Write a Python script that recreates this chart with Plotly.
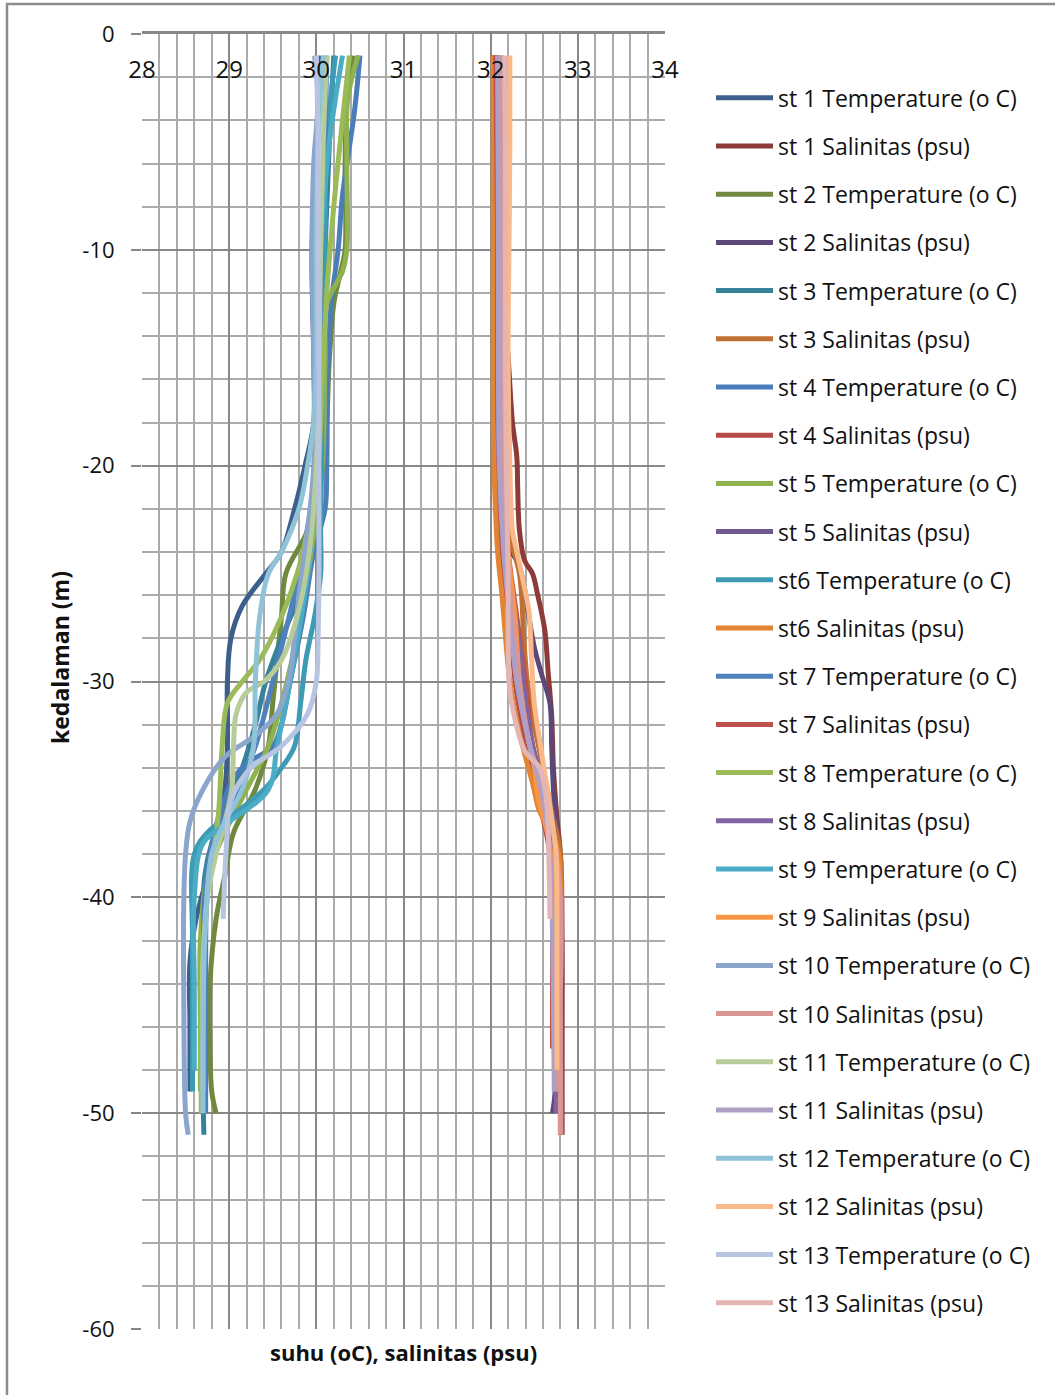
import plotly.graph_objects as go

# ---------------------------------------------------------------
# CTD profiles per station: depth (m, negative downwards) and value
# ---------------------------------------------------------------
st1_temp_depth = [-1, -5, -10, -15, -18, -20, -22, -24, -25, -26.5, -28, -30, -33, -35, -37, -39, -41, -43, -46, -49]
st1_temp = [30.05, 30.0, 29.95, 29.97, 29.97, 29.87, 29.75, 29.6, 29.42, 29.15, 29.02, 28.98, 28.98, 28.95, 28.85, 28.75, 28.62, 28.55, 28.55, 28.55]
st1_sal_depth = [-1, -5, -10, -15, -18, -19.6, -21, -23, -24.4, -25, -26, -27.6, -29.6, -31.6, -34, -36.3, -38, -42, -46, -51]
st1_sal = [32.05, 32.07, 32.1, 32.2, 32.25, 32.3, 32.31, 32.33, 32.39, 32.48, 32.54, 32.62, 32.66, 32.7, 32.72, 32.76, 32.8, 32.82, 32.82, 32.82]

st2_temp_depth = [-1, -3, -6, -10, -11, -12.5, -15, -20, -23, -25, -27, -29, -31, -33, -35, -37, -39, -41, -44, -47, -49, -50]
st2_temp = [30.42, 30.35, 30.33, 30.33, 30.28, 30.2, 30.15, 30.08, 29.9, 29.65, 29.6, 29.55, 29.5, 29.45, 29.3, 29.05, 28.95, 28.85, 28.78, 28.78, 28.8, 28.85]
st2_sal_depth = [-1, -5, -10, -15, -20, -22, -23, -23.6, -24.4, -25.3, -26.8, -28.4, -29.6, -31, -33, -35, -37, -40, -45, -49, -50]
st2_sal = [32.06, 32.06, 32.07, 32.07, 32.08, 32.09, 32.1, 32.16, 32.3, 32.37, 32.43, 32.5, 32.58, 32.68, 32.7, 32.72, 32.76, 32.77, 32.76, 32.74, 32.71]

st3_temp_depth = [-1, -5, -10, -15, -20, -23, -26, -28, -30, -32, -34, -36, -37.5, -39, -42, -46, -49, -51]
st3_temp = [30.2, 30.15, 30.1, 30.05, 30.0, 29.95, 29.8, 29.6, 29.42, 29.3, 29.15, 28.95, 28.8, 28.72, 28.7, 28.7, 28.7, 28.71]
st3_sal_depth = [-1, -10, -20, -23, -25, -28, -30, -32, -34, -36, -38, -45, -51]
st3_sal = [32.04, 32.06, 32.1, 32.2, 32.33, 32.38, 32.42, 32.5, 32.6, 32.7, 32.8, 32.8, 32.81]

st4_temp_depth = [-1, -3.5, -7.5, -10, -12.5, -16, -20, -22, -24, -27, -30, -32, -33, -33.8, -34.5, -36, -38, -40, -45, -50]
st4_temp = [30.5, 30.44, 30.3, 30.25, 30.17, 30.13, 30.12, 30.1, 29.97, 29.85, 29.7, 29.6, 29.5, 29.2, 29.05, 28.9, 28.78, 28.74, 28.73, 28.73]
st4_sal_depth = [-1, -10, -20, -22, -24, -26, -28, -30, -32, -34, -36, -38, -41, -44, -47]
st4_sal = [32.03, 32.04, 32.05, 32.08, 32.13, 32.18, 32.24, 32.28, 32.36, 32.45, 32.58, 32.68, 32.71, 32.71, 32.71]

st5_temp_depth = [-1, -3, -6, -10, -11, -12.5, -15, -20, -23, -27, -29, -31, -33, -35, -37, -39, -42, -46, -49]
st5_temp = [30.48, 30.36, 30.35, 30.35, 30.3, 30.12, 30.1, 30.07, 29.98, 29.82, 29.72, 29.6, 29.45, 29.2, 28.95, 28.75, 28.67, 28.67, 28.67]
st5_sal_depth = [-1, -10, -20, -23, -25, -28, -30, -32, -34, -36, -38, -45, -50]
st5_sal = [32.1, 32.1, 32.12, 32.15, 32.22, 32.3, 32.35, 32.42, 32.55, 32.7, 32.74, 32.75, 32.76]

st6_temp_depth = [-1, -5, -10, -15, -20, -23, -25, -27, -29, -31, -33, -34, -35, -36, -37, -38, -42, -46, -49]
st6_temp = [30.22, 30.12, 30.1, 30.07, 30.06, 30.05, 30.05, 29.98, 29.88, 29.82, 29.75, 29.6, 29.4, 29.1, 28.75, 28.6, 28.58, 28.58, 28.58]
st6_sal_depth = [-1, -10, -18, -21.5, -24, -26, -28.4, -30, -32.4, -34.7, -36, -37, -38, -45, -50]
st6_sal = [32.03, 32.03, 32.03, 32.05, 32.08, 32.13, 32.18, 32.22, 32.33, 32.48, 32.56, 32.7, 32.78, 32.8, 32.8]

st7_temp_depth = [-1, -5, -10, -15, -20, -25, -30, -33, -35, -37, -40, -45, -50]
st7_temp = [30.12, 30.1, 30.06, 30.03, 30.0, 29.8, 29.5, 29.3, 29.1, 28.85, 28.72, 28.72, 28.72]
st7_sal_depth = [-1, -10, -20, -24, -27, -30, -33, -35, -37, -40, -45, -51]
st7_sal = [32.06, 32.08, 32.1, 32.2, 32.3, 32.4, 32.48, 32.6, 32.7, 32.8, 32.8, 32.8]

st8_temp_depth = [-1, -4, -8, -12, -16, -20, -23, -25, -27, -29, -30, -31, -33, -36, -38, -40, -43, -47, -50]
st8_temp = [30.38, 30.3, 30.2, 30.12, 30.07, 30.02, 29.9, 29.78, 29.6, 29.35, 29.15, 28.98, 28.92, 28.88, 28.82, 28.75, 28.7, 28.68, 28.68]
st8_sal_depth = [-1, -10, -20, -23, -26, -29, -31, -34, -36, -38, -44, -50]
st8_sal = [32.08, 32.08, 32.1, 32.15, 32.25, 32.35, 32.4, 32.53, 32.62, 32.7, 32.75, 32.75]

st9_temp_depth = [-1, -5, -10, -15, -20, -25, -30, -33, -35, -36.5, -37.5, -40, -44, -48]
st9_temp = [30.3, 30.15, 30.05, 30.02, 30.0, 29.9, 29.7, 29.55, 29.45, 29.0, 28.7, 28.6, 28.6, 28.6]
st9_sal_depth = [-1, -10, -20, -24, -27, -30, -32, -34, -35.5, -37, -39, -45, -49]
st9_sal = [32.12, 32.12, 32.14, 32.2, 32.28, 32.33, 32.4, 32.5, 32.55, 32.65, 32.72, 32.75, 32.75]

st10_temp_depth = [-1, -3, -6, -10, -15, -20, -23, -26, -28, -30, -31.5, -32.5, -33.5, -35, -36.5, -38, -40, -45, -50, -51]
st10_temp = [29.98, 30.02, 29.97, 29.95, 29.97, 29.97, 29.9, 29.8, 29.75, 29.68, 29.55, 29.3, 28.95, 28.7, 28.55, 28.5, 28.48, 28.48, 28.5, 28.53]
st10_sal_depth = [-1, -10, -20, -24, -27, -30, -33, -35, -37, -40, -45, -51]
st10_sal = [32.12, 32.13, 32.15, 32.18, 32.25, 32.33, 32.45, 32.62, 32.72, 32.8, 32.8, 32.8]

st11_temp_depth = [-1, -5, -10, -15, -20, -24, -27, -29, -30, -30.5, -31.5, -33, -35, -36.5, -38, -40, -43, -46, -49]
st11_temp = [30.12, 30.08, 30.05, 30.03, 30.0, 29.92, 29.78, 29.6, 29.4, 29.2, 29.08, 29.05, 29.03, 28.95, 28.85, 28.75, 28.7, 28.7, 28.7]
st11_sal_depth = [-1, -10, -20, -24, -27, -30, -33, -35, -37, -40, -45, -49]
st11_sal = [32.08, 32.09, 32.1, 32.15, 32.22, 32.3, 32.45, 32.58, 32.66, 32.7, 32.72, 32.73]

st12_temp_depth = [-1, -5, -10, -15, -18, -20, -22, -24, -25, -27, -30, -33, -35, -36.5, -38, -42, -46, -50]
st12_temp = [30.08, 30.02, 30.0, 30.0, 29.97, 29.9, 29.8, 29.6, 29.45, 29.35, 29.3, 29.28, 29.15, 28.95, 28.8, 28.72, 28.7, 28.7]
st12_sal_depth = [-1, -5, -10, -15, -20, -23, -24, -25.3, -26.8, -29, -31, -33.2, -36.3, -38, -42, -48]
st12_sal = [32.22, 32.22, 32.21, 32.2, 32.22, 32.25, 32.3, 32.37, 32.44, 32.47, 32.5, 32.58, 32.7, 32.75, 32.76, 32.76]

st13_temp_depth = [-1, -5, -10, -15, -20, -25, -28, -30, -31.5, -33, -34, -35.5, -37.5, -39, -41]
st13_temp = [30.0, 30.02, 30.02, 30.03, 30.03, 30.03, 30.02, 30.0, 29.9, 29.6, 29.25, 29.02, 28.97, 28.95, 28.93]
st13_sal_depth = [-1, -5, -10, -15, -20, -25, -28, -30, -31.2, -33.2, -34, -35.5, -38.6, -41]
st13_sal = [32.16, 32.17, 32.17, 32.17, 32.18, 32.2, 32.2, 32.21, 32.25, 32.39, 32.56, 32.64, 32.67, 32.68]

# Axis tick values and labels
x_ticks = [28, 29, 30, 31, 32, 33, 34]
x_ticktext = ["28", "29", "30", "31", "32", "33", "34"]
y_ticks = [0, -10, -20, -30, -40, -50, -60]
y_ticktext = ["0", "-10", "-20", "-30", "-40", "-50", "-60"]

# Legend order: temperature then salinity for each station
# (name, depth, values, colour, x axis) - salinity is read on the labelled scale axis
series = [
    ("st 1 Temperature (o C)", st1_temp_depth, st1_temp, "#3C5F8C", "x"),
    ("st 1 Salinitas (psu)", st1_sal_depth, st1_sal, "#8E3A38", "x2"),
    ("st 2 Temperature (o C)", st2_temp_depth, st2_temp, "#71893F", "x"),
    ("st 2 Salinitas (psu)", st2_sal_depth, st2_sal, "#5C4776", "x2"),
    ("st 3 Temperature (o C)", st3_temp_depth, st3_temp, "#35829A", "x"),
    ("st 3 Salinitas (psu)", st3_sal_depth, st3_sal, "#C07030", "x2"),
    ("st 4 Temperature (o C)", st4_temp_depth, st4_temp, "#4A7DBA", "x"),
    ("st 4 Salinitas (psu)", st4_sal_depth, st4_sal, "#B84946", "x2"),
    ("st 5 Temperature (o C)", st5_temp_depth, st5_temp, "#8FB24E", "x"),
    ("st 5 Salinitas (psu)", st5_sal_depth, st5_sal, "#71588F", "x2"),
    ("st6 Temperature (o C)", st6_temp_depth, st6_temp, "#3E9BB5", "x"),
    ("st6 Salinitas (psu)", st6_sal_depth, st6_sal, "#E38432", "x2"),
    ("st 7 Temperature (o C)", st7_temp_depth, st7_temp, "#4F81BD", "x"),
    ("st 7 Salinitas (psu)", st7_sal_depth, st7_sal, "#C0504D", "x2"),
    ("st 8 Temperature (o C)", st8_temp_depth, st8_temp, "#9BBB59", "x"),
    ("st 8 Salinitas (psu)", st8_sal_depth, st8_sal, "#8064A2", "x2"),
    ("st 9 Temperature (o C)", st9_temp_depth, st9_temp, "#4BACC6", "x"),
    ("st 9 Salinitas (psu)", st9_sal_depth, st9_sal, "#F79646", "x2"),
    ("st 10 Temperature (o C)", st10_temp_depth, st10_temp, "#8CA5CC", "x"),
    ("st 10 Salinitas (psu)", st10_sal_depth, st10_sal, "#D99694", "x2"),
    ("st 11 Temperature (o C)", st11_temp_depth, st11_temp, "#B7CC98", "x"),
    ("st 11 Salinitas (psu)", st11_sal_depth, st11_sal, "#AE9FC6", "x2"),
    ("st 12 Temperature (o C)", st12_temp_depth, st12_temp, "#90C3D7", "x"),
    ("st 12 Salinitas (psu)", st12_sal_depth, st12_sal, "#FAB98A", "x2"),
    ("st 13 Temperature (o C)", st13_temp_depth, st13_temp, "#B8C5E2", "x"),
    ("st 13 Salinitas (psu)", st13_sal_depth, st13_sal, "#E3B5B4", "x2"),
]

FONT = "'Open Sans', sans-serif"
TEXT = "#111111"
MAJOR = "#888888"
MINOR = "#ababab"

fig = go.Figure()
for i, (name, depth, vals, color, xax) in enumerate(series):
    fig.add_trace(go.Scatter(
        x=vals, y=depth, xaxis=xax, yaxis="y", mode="lines", name=name, legendgroup=f"g{i}",
        line=dict(color=color, width=5, shape="spline", smoothing=1.0),
    ))

fig.update_layout(
    width=1055, height=1395,
    margin=dict(l=142, r=390, t=34, b=66),
    paper_bgcolor="white", plot_bgcolor="white",
    font=dict(family=FONT, size=22, color=TEXT),
    showlegend=True,
    legend=dict(
        x=1.088, y=0.9673, xanchor="left", yanchor="top",
        font=dict(family=FONT, size=23, color=TEXT),
        itemwidth=57, tracegroupgap=15.3, bgcolor="rgba(0,0,0,0)",
    ),
    # main x axis: grid and the top axis line at 0 m
    xaxis=dict(
        range=[28, 34], side="top", tickvals=x_ticks,
        showgrid=True, gridcolor=MAJOR, gridwidth=1.8,
        minor=dict(dtick=0.2, tick0=28, showgrid=True, gridcolor=MINOR, gridwidth=1.6),
        showline=True, linecolor=MAJOR, linewidth=2.5,
        zeroline=False, ticks="", showticklabels=False,
    ),
    # same scale, labelled just under the top line
    xaxis2=dict(
        range=[28, 34], overlaying="x", anchor="free", position=0.9625, side="top",
        tickvals=x_ticks, ticktext=x_ticktext, ticks="",
        showgrid=False, showline=False, zeroline=False,
        tickfont=dict(family=FONT, size=24, color=TEXT),
    ),
    yaxis=dict(
        range=[-60, 0], tickvals=y_ticks, ticktext=y_ticktext,
        showgrid=True, gridcolor=MAJOR, gridwidth=1.8,
        minor=dict(dtick=2, tick0=0, showgrid=True, gridcolor=MINOR, gridwidth=1.6),
        zeroline=False, showline=False,
        ticks="outside", ticklen=10, tickcolor=MAJOR, tickwidth=2,
        ticklabelstandoff=12,
        tickfont=dict(family=FONT, size=22, color=TEXT),
    ),
    annotations=[
        dict(text="<b>suhu (oC), salinitas (psu)</b>", xref="paper", yref="paper",
             x=0.5, y=-0.0178, xanchor="center", yanchor="middle", showarrow=False,
             font=dict(family=FONT, size=22, color=TEXT)),
        dict(text="<b>kedalaman (m)</b>", xref="paper", yref="paper",
             x=(60 - 142) / 523, y=1 - (658 - 34) / 1295, xanchor="center", yanchor="middle",
             textangle=-90, showarrow=False,
             font=dict(family=FONT, size=23, color=TEXT)),
    ],
    shapes=[
        dict(type="rect", xref="paper", yref="paper",
             x0=(7 - 142) / 523, x1=(1065 - 142) / 523,
             y0=1 - (1405 - 34) / 1295, y1=1 - (4 - 34) / 1295,
             line=dict(color="#8c8c8c", width=2.5), fillcolor="rgba(0,0,0,0)", layer="below"),
    ],
)

fig.write_html("out.html")
